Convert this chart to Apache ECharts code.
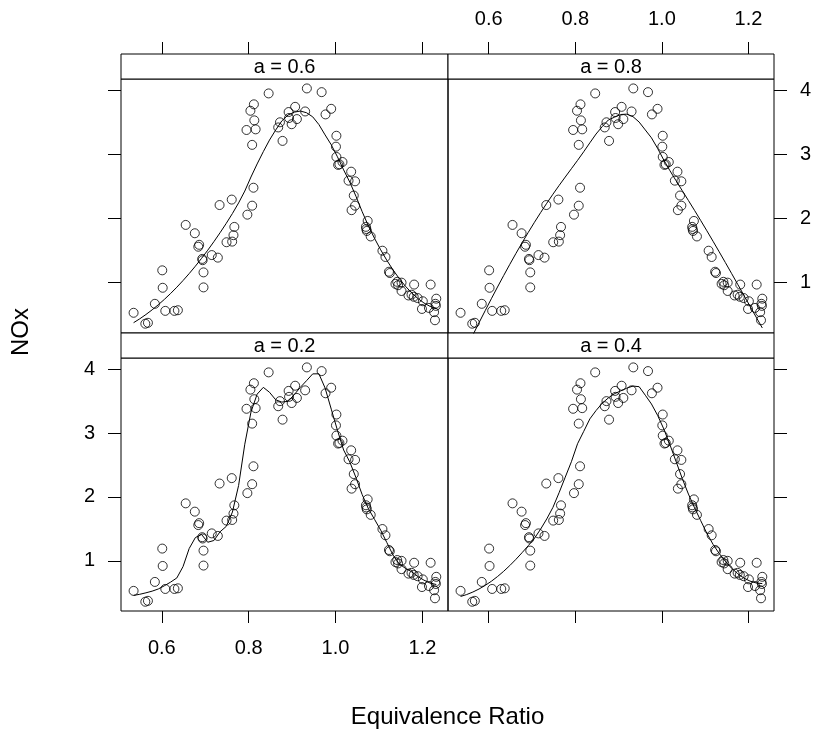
<!DOCTYPE html>
<html>
<head>
<meta charset="utf-8">
<script src="https://cdn.jsdelivr.net/npm/echarts@6/dist/echarts.min.js"></script>
<style>html,body{margin:0;padding:0;background:#fff}#c{width:815px;height:735px}</style>
</head>
<body>
<div id="c"></div>
<script>
// Equivalence ratio (x) and NOx (y) — same points in every panel
const E = [0.907,0.761,1.108,1.016,1.189,1.001,1.231,1.123,1.042,1.215,
0.930,1.152,1.138,0.601,0.696,0.686,1.072,1.074,0.934,0.808,
1.071,1.009,1.142,1.229,1.175,0.568,0.977,0.767,1.006,0.893,
1.152,0.693,1.232,1.036,1.125,1.081,0.868,0.762,1.144,1.045,
0.797,1.115,1.070,1.219,0.637,0.733,0.715,0.872,0.765,0.878,
0.811,0.676,1.045,0.968,0.846,0.684,0.729,0.911,0.808,1.168,
0.749,0.892,1.002,0.812,1.230,0.804,0.813,1.002,0.696,1.199,
1.030,0.602,0.694,0.816,1.037,1.181,0.899,1.227,1.180,0.795,
0.990,1.201,0.629,0.608,0.584,0.562,0.535,0.655];
const NOx = [3.741,2.295,1.498,2.881,0.760,3.120,0.638,1.170,2.358,0.606,
3.669,1.000,0.981,1.192,0.926,1.590,1.806,1.962,4.028,3.148,
1.836,2.845,1.013,0.414,0.812,0.374,3.623,1.869,2.836,3.567,
0.87,1.37,0.75,2.73,1.15,1.72,3.42,1.64,0.96,2.58,
2.06,1.40,1.87,0.97,0.57,2.21,1.43,3.50,1.74,3.21,
2.48,1.77,2.20,3.97,3.95,1.56,1.39,3.55,2.20,0.80,
1.63,3.66,3.29,3.78,0.67,3.68,3.53,2.96,1.16,0.59,
2.59,0.92,1.35,3.39,2.13,0.97,3.47,0.54,0.78,3.38,
3.71,0.71,0.56,0.56,0.67,0.36,0.53,1.90];
// panels in lattice order: bottom-left, bottom-right, top-left, top-right
const spans = [0.2, 0.4, 0.6, 0.8];
const stripLabels = ['a = 0.2', 'a = 0.4', 'a = 0.6', 'a = 0.8'];
const xTicks = [0.6, 0.8, 1.0, 1.2];
const yTicks = [1, 2, 3, 4];

// local regression (loess, degree 2, symmetric family: 4 iterations)
function loess(xs, ys, span, degree, iters, nEval) {
  const n = xs.length;
  const q = Math.min(n, Math.floor(n * span + 1e-5));
  let rw = new Array(n).fill(1);
  function fitAt(x0) {
    const d = xs.map(x => Math.abs(x - x0));
    const sd = d.slice().sort((a, b) => a - b);
    let h = sd[q - 1];
    if (span > 1) h *= span;
    h = Math.max(h, 1e-9) * 1.0000001;
    const m = degree + 1;
    const A = Array.from({length: m}, () => new Array(m).fill(0));
    const b = new Array(m).fill(0);
    for (let i = 0; i < n; i++) {
      const r = d[i] / h;
      if (r >= 1) continue;
      const w = Math.pow(1 - r * r * r, 3) * rw[i];
      if (w <= 0) continue;
      const u = xs[i] - x0;
      const p = [];
      for (let k = 0; k < m; k++) p.push(Math.pow(u, k));
      for (let a = 0; a < m; a++) {
        b[a] += w * p[a] * ys[i];
        for (let c = 0; c < m; c++) A[a][c] += w * p[a] * p[c];
      }
    }
    for (let col = 0; col < m; col++) {
      let piv = col;
      for (let r = col + 1; r < m; r++) if (Math.abs(A[r][col]) > Math.abs(A[piv][col])) piv = r;
      [A[col], A[piv]] = [A[piv], A[col]]; [b[col], b[piv]] = [b[piv], b[col]];
      const dv = A[col][col] || 1e-12;
      for (let r = col + 1; r < m; r++) {
        const f = A[r][col] / dv;
        for (let c = col; c < m; c++) A[r][c] -= f * A[col][c];
        b[r] -= f * b[col];
      }
    }
    const coef = new Array(m).fill(0);
    for (let r = m - 1; r >= 0; r--) {
      let s = b[r];
      for (let c = r + 1; c < m; c++) s -= A[r][c] * coef[c];
      coef[r] = s / (A[r][r] || 1e-12);
    }
    return coef[0];
  }
  for (let it = 1; it < iters; it++) {
    const res = xs.map((x, i) => ys[i] - fitAt(x));
    const ar = res.map(Math.abs).sort((a, c) => a - c);
    const med = (ar[Math.floor((n - 1) / 2)] + ar[Math.ceil((n - 1) / 2)]) / 2;
    const cm = 6 * med;
    rw = res.map(r => { const u = Math.abs(r) / cm; return u < 1 ? Math.pow(1 - u * u, 2) : 0; });
  }
  const lo = Math.min(...xs), hi = Math.max(...xs);
  const out = [];
  for (let k = 0; k < nEval; k++) {
    const x0 = lo + (hi - lo) * k / (nEval - 1);
    out.push([x0, fitAt(x0)]);
  }
  return out;
}

const pts = E.map((e, i) => [e, NOx[i]]);
const FONT = '"Liberation Sans", Arial, Helvetica, sans-serif';

const gridBoxes = [
  {left: 121, top: 358, width: 327, height: 253},
  {left: 448, top: 358, width: 326, height: 253},
  {left: 121, top: 79, width: 327, height: 254},
  {left: 448, top: 79, width: 326, height: 254}
];
const XMIN = 0.506, XMAX = 1.259, YMIN = 0.215, YMAX = 4.175;

const grid = gridBoxes.map(g => Object.assign({show: true, borderColor: '#000', borderWidth: 1, backgroundColor: 'transparent'}, g));
const xAxis = gridBoxes.map((g, i) => ({
  type: 'value', gridIndex: i, min: XMIN, max: XMAX,
  position: i < 2 ? 'bottom' : 'top',
  offset: i < 2 ? 0 : 25,
  axisLine: {show: false, onZero: false},
  splitLine: {show: false},
  axisTick: {show: true, customValues: xTicks, length: 12, lineStyle: {color: '#000', width: 1}},
  axisLabel: {show: i === 0 || i === 3, customValues: xTicks, formatter: v => v.toFixed(1),
    fontSize: 20, fontFamily: FONT, color: '#000', margin: i < 2 ? 27 : 25}
}));
const yAxis = gridBoxes.map((g, i) => ({
  type: 'value', gridIndex: i, min: YMIN, max: YMAX,
  position: (i === 0 || i === 2) ? 'left' : 'right',
  axisLine: {show: false, onZero: false},
  splitLine: {show: false},
  axisTick: {show: true, customValues: yTicks, length: 13, lineStyle: {color: '#000', width: 1}},
  axisLabel: {show: i === 0 || i === 3, customValues: yTicks, formatter: v => String(v),
    fontSize: 20, fontFamily: FONT, color: '#000', margin: 26}
}));

const series = [];
spans.forEach((s, i) => {
  series.push({
    type: 'scatter', xAxisIndex: i, yAxisIndex: i, data: pts,
    symbol: 'circle', symbolSize: 9,
    itemStyle: {color: 'rgba(0,0,0,0)', borderColor: '#000', borderWidth: 1},
    silent: true, animation: false
  });
  series.push({
    type: 'line', xAxisIndex: i, yAxisIndex: i, data: loess(E, NOx, s, 2, 4, 50),
    showSymbol: false, symbol: 'none', smooth: false,
    lineStyle: {color: '#000', width: 1}, silent: true, animation: false
  });
});

const graphic = [];
gridBoxes.forEach((g, i) => {
  const sy = g.top - 25;
  graphic.push({type: 'rect', shape: {x: g.left, y: sy, width: g.width, height: 25},
    style: {fill: '#fff', stroke: '#000', lineWidth: 1}, silent: true});
  graphic.push({type: 'text', x: g.left + g.width / 2, y: sy + 13,
    style: {text: stripLabels[i], fill: '#000', font: '20px ' + FONT, align: 'center', verticalAlign: 'middle'}, silent: true});
});
graphic.push({type: 'text', x: 447.5, y: 717,
  style: {text: 'Equivalence Ratio', fill: '#000', font: '24px ' + FONT, align: 'center', verticalAlign: 'middle'}});
graphic.push({type: 'text', x: 21, y: 332, rotation: Math.PI / 2,
  style: {text: 'NOx', fill: '#000', font: '24px ' + FONT, align: 'center', verticalAlign: 'middle'}});

const chart = echarts.init(document.getElementById('c'), null, {renderer: 'canvas'});
chart.setOption({animation: false, backgroundColor: '#fff', grid, xAxis, yAxis, series, graphic});
</script>
</body>
</html>
